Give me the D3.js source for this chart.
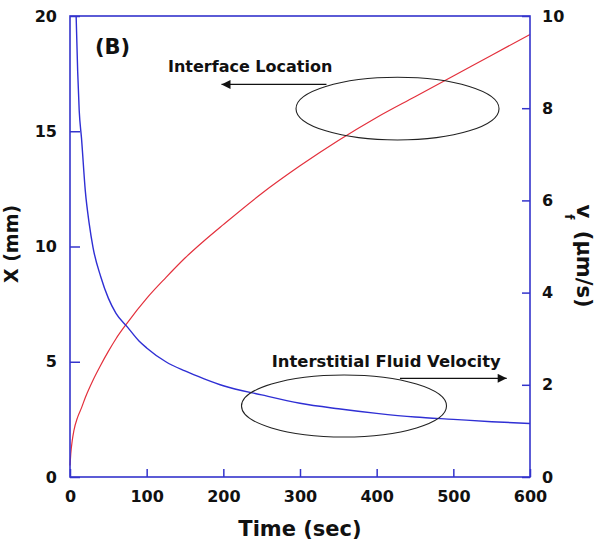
<!DOCTYPE html>
<html>
<head>
<meta charset="utf-8">
<script src="https://cdn.jsdelivr.net/npm/d3@7"></script>
<style>
  html, body { margin: 0; padding: 0; background: #fff; }
  text { font-family: "DejaVu Sans", sans-serif; font-weight: bold; fill: #111; }
</style>
</head>
<body>
<svg id="chart" width="601" height="547"></svg>
<script>
// ---- data ----
const timeX = [0, 1, 3, 5, 10, 15, 20, 30, 40, 50, 60, 75, 100, 125, 150, 175, 200, 250, 300, 350, 400, 450, 500, 550, 600];
const interfaceX = [0.5, 1.0, 1.6, 2.0, 2.6, 3.0, 3.45, 4.2, 4.85, 5.45, 6.0, 6.7, 7.75, 8.65, 9.5, 10.25, 10.95, 12.3, 13.5, 14.6, 15.6, 16.5, 17.4, 18.3, 19.2];

const timeV = [8, 10, 12, 15, 20, 25, 30, 40, 50, 60, 75, 90, 100, 125, 150, 175, 200, 250, 300, 350, 400, 450, 500, 550, 600];
const velocity = [10, 8.8, 7.95, 7.35, 6.2, 5.5, 4.98, 4.35, 3.88, 3.55, 3.25, 2.95, 2.8, 2.5, 2.3, 2.13, 1.98, 1.78, 1.6, 1.48, 1.38, 1.3, 1.25, 1.2, 1.16];

const xTicks = [0, 100, 200, 300, 400, 500, 600];
const leftTicks = [0, 5, 10, 15, 20];
const rightTicks = [0, 2, 4, 6, 8, 10];

const labelInterface = "Interface Location";
const labelVelocity = "Interstitial Fluid Velocity";
const panelLabel = "(B)";

// ---- layout ----
const svg = d3.select("#chart");
const L = 70, R = 530, T = 16, B = 477;
const axisColor = "#3434cc";

const x = d3.scaleLinear().domain([0, 600]).range([L, R]);
const yL = d3.scaleLinear().domain([0, 20]).range([B, T]);
const yR = d3.scaleLinear().domain([0, 10]).range([B, T]);

svg.append("rect").attr("width", 601).attr("height", 547).attr("fill", "#fff");

// curves
const redLine = d3.line().x((d, i) => x(timeX[i])).y(d => yL(d)).curve(d3.curveMonotoneX);
svg.append("path").datum(interfaceX).attr("d", redLine)
  .attr("fill", "none").attr("stroke", "#e3303c").attr("stroke-width", 1.2);

const blueLine = d3.line().x((d, i) => x(timeV[i])).y(d => yR(d)).curve(d3.curveMonotoneX);
svg.append("path").datum(velocity).attr("d", blueLine)
  .attr("fill", "none").attr("stroke", "#2f2fd4").attr("stroke-width", 1.4);

// axes
function styleAxis(g) {
  g.select(".domain").remove();
  g.selectAll(".tick line").attr("stroke", axisColor).attr("stroke-width", 1.5);
  g.selectAll(".tick text").attr("fill", "#111").style("font-size", "16px")
    .style("font-family", '"DejaVu Sans", sans-serif').style("font-weight", "bold");
}
svg.append("g").attr("transform", `translate(0,${B})`)
  .call(d3.axisBottom(x).tickValues(xTicks).tickSize(-8).tickPadding(14).tickFormat(d3.format("d")))
  .call(styleAxis);
svg.append("g").attr("transform", `translate(${L},0)`)
  .call(d3.axisLeft(yL).tickValues(leftTicks).tickSize(-10).tickPadding(13).tickFormat(d3.format("d")))
  .call(styleAxis);
svg.append("g").attr("transform", `translate(${R},0)`)
  .call(d3.axisRight(yR).tickValues(rightTicks).tickSize(-8).tickPadding(12).tickFormat(d3.format("d")))
  .call(styleAxis);

// frame
svg.append("rect").attr("x", L).attr("y", T).attr("width", R - L).attr("height", B - T)
  .attr("fill", "none").attr("stroke", axisColor).attr("stroke-width", 1.6);

// axis titles
svg.append("text").attr("x", (L + R) / 2).attr("y", 536).attr("text-anchor", "middle")
  .style("font-size", "21px").text("Time (sec)");
svg.append("text").attr("transform", `translate(18,244) rotate(-90)`).attr("text-anchor", "middle")
  .style("font-size", "19px").text("X (mm)");
const rt = svg.append("text").attr("transform", `translate(577,256) rotate(90)`).attr("text-anchor", "middle")
  .style("font-size", "21px");
rt.append("tspan").text("v");
rt.append("tspan").attr("dy", 12).attr("dx", -4).style("font-size", "12px").text("f");
rt.append("tspan").attr("dy", -12).attr("dx", 4).text(" (µm/s)");

// annotations (in data units)
const marker = svg.append("defs").append("marker").attr("id", "ah")
  .attr("viewBox", "0 0 10 10").attr("refX", 10).attr("refY", 5)
  .attr("markerWidth", 14).attr("markerHeight", 9).attr("markerUnits", "userSpaceOnUse")
  .attr("orient", "auto");
marker.append("path").attr("d", "M0,0 L10,5 L0,10 Z").attr("fill", "#111");

const ellipses = [
  { t: 427.2, X: 15.98, rt: 132.4, rX: 1.36 },
  { t: 357.4, X: 3.08, rt: 133.7, rX: 1.345 }
];
ellipses.forEach(e => {
  svg.append("ellipse").attr("cx", x(e.t)).attr("cy", yL(e.X))
    .attr("rx", x(e.rt) - x(0)).attr("ry", yL(0) - yL(e.rX))
    .attr("fill", "none").attr("stroke", "#222").attr("stroke-width", 1.1);
});

const arrows = [
  { t1: 334.5, t2: 197.6, X: 17.03 },
  { t1: 430.4, t2: 569.6, X: 4.28 }
];
arrows.forEach(a => {
  svg.append("line").attr("x1", x(a.t1)).attr("x2", x(a.t2)).attr("y1", yL(a.X)).attr("y2", yL(a.X))
    .attr("stroke", "#111").attr("stroke-width", 1.2).attr("marker-end", "url(#ah)");
});

svg.append("text").attr("x", x(127.8)).attr("y", yL(17.56)).style("font-size", "16px").text(labelInterface);
svg.append("text").attr("x", x(263.1)).attr("y", yL(4.785)).style("font-size", "16.4px").text(labelVelocity);
svg.append("text").attr("x", x(32.6)).attr("y", yL(18.35)).style("font-size", "21px").text(panelLabel);
</script>
</body>
</html>
